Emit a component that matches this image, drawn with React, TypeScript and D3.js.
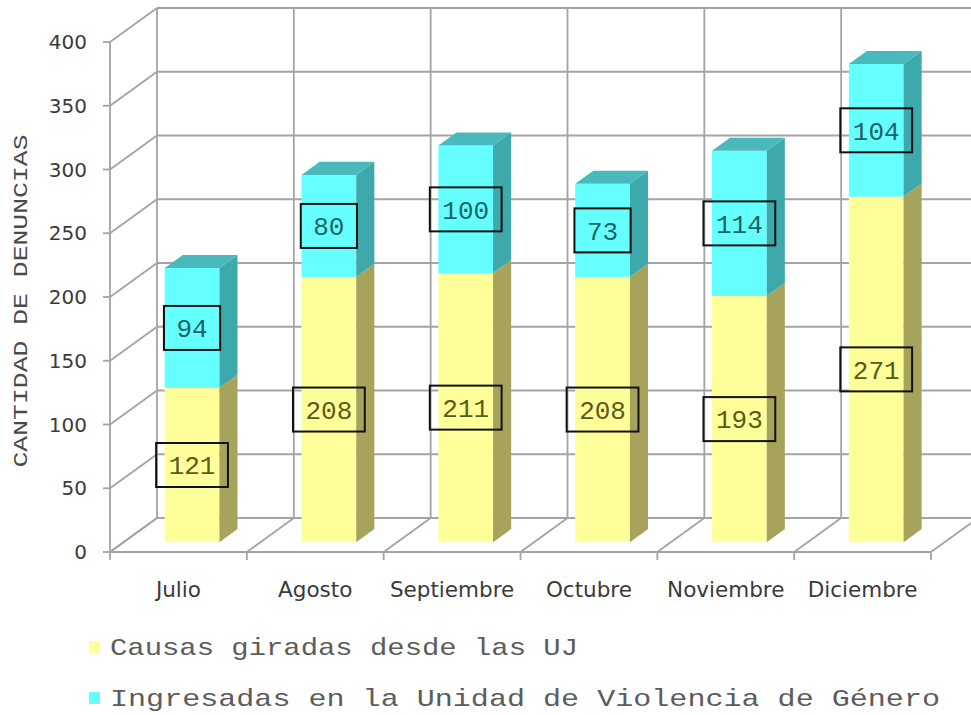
import * as d3 from "d3";

const months = ["Julio", "Agosto", "Septiembre", "Octubre", "Noviembre", "Diciembre"];
const causasUJ = [121, 208, 211, 208, 193, 271];
const ingresadasUVG = [94, 80, 100, 73, 114, 104];
const yTicks = [0, 50, 100, 150, 200, 250, 300, 350, 400];
const seriesNames = ["Causas giradas desde las UJ", "Ingresadas en la Unidad de Violencia de Género"];

const W = 971;
const H = 715;
const left = 110;
const right = 931;
const depth = { dx: 47, dy: -34 };
// the bars sit inside the depth of the floor, not on its front edge
const barFront = 0.29;
const barBack = 0.675;

const mono = "'Courier New', 'Liberation Mono', monospace";
const sans = "'DejaVu Sans', Verdana, sans-serif";
const grid = "#a3a3a8";

const colors = {
  yellow: { front: "#ffff99", side: "#a8a35c", top: "#c9c575", text: "#5a5a1a" },
  cyan: { front: "#66ffff", side: "#3ea9ab", top: "#49b9bb", text: "#1d6466" },
};

export default function App() {
  const x = d3.scaleBand<string>().domain(months).range([left, right]).paddingInner(0.6).paddingOuter(0.3);
  const y = d3.scaleLinear().domain([0, 400]).range([552, 42]);
  const step = x.step();
  const catEdges = d3.range(months.length + 1).map((i) => left + i * step);

  const fx = depth.dx * barFront;
  const fy = depth.dy * barFront;
  const sx = depth.dx * (barBack - barFront);
  const sy = depth.dy * (barBack - barFront);

  const stacked = months.map((m, i) => [
    { key: "yellow" as const, y0: 0, y1: causasUJ[i], v: causasUJ[i] },
    { key: "cyan" as const, y0: causasUJ[i], y1: causasUJ[i] + ingresadasUVG[i], v: ingresadasUVG[i] },
  ]);

  const labelFont = 26;
  const charW = labelFont * 0.6;

  return (
    <svg width={W} height={H} style={{ position: "absolute", left: 0, top: 0, background: "#fff" }}>
      {/* back wall grid */}
      <g stroke={grid} strokeWidth={1.8} fill="none">
        {yTicks.map((t) => (
          <line key={"bh" + t} x1={left + depth.dx} x2={right + depth.dx} y1={y(t) + depth.dy} y2={y(t) + depth.dy} />
        ))}
        {catEdges.map((cx, i) => (
          <line key={"bv" + i} x1={cx + depth.dx} x2={cx + depth.dx} y1={y(0) + depth.dy} y2={y(400) + depth.dy} />
        ))}
        {/* left wall */}
        {yTicks.map((t) => (
          <line key={"lw" + t} x1={left} y1={y(t)} x2={left + depth.dx} y2={y(t) + depth.dy} />
        ))}
        {/* floor */}
        {catEdges.map((cx, i) => (
          <line key={"fl" + i} x1={cx} y1={y(0)} x2={cx + depth.dx} y2={y(0) + depth.dy} />
        ))}
      </g>

      {/* bars */}
      {stacked.map((segs, i) => {
        const xl = (x(months[i]) as number) + fx;
        const xr = xl + x.bandwidth();
        return (
          <g key={months[i]}>
            {segs.map((s, j) => {
              const yb = y(s.y0) + fy;
              const yt = y(s.y1) + fy;
              const c = colors[s.key];
              return (
                <g key={j}>
                  <rect x={xl} y={yt} width={xr - xl} height={yb - yt} fill={c.front} />
                  <polygon points={`${xr},${yb} ${xr},${yt} ${xr + sx},${yt + sy} ${xr + sx},${yb + sy}`} fill={c.side} />
                  {j === segs.length - 1 && (
                    <polygon points={`${xl},${yt} ${xr},${yt} ${xr + sx},${yt + sy} ${xl + sx},${yt + sy}`} fill={c.top} />
                  )}
                </g>
              );
            })}
          </g>
        );
      })}

      {/* data labels */}
      {stacked.map((segs, i) => {
        const cx = (x(months[i]) as number) + fx + x.bandwidth() / 2;
        return segs.map((s, j) => {
          const cy = y((s.y0 + s.y1) / 2) + fy;
          const txt = String(s.v);
          const bw = txt.length * charW + 25;
          return (
            <g key={months[i] + j}>
              <rect x={cx - bw / 2} y={cy - 22} width={bw} height={44} fill="none" stroke="#111" strokeWidth={2} />
              <text x={cx} y={cy} dy="0.36em" textAnchor="middle" fontFamily={mono} fontSize={labelFont} fill={colors[s.key].text}>
                {txt}
              </text>
            </g>
          );
        });
      })}

      {/* front axes */}
      <g stroke={grid} strokeWidth={1.8}>
        <line x1={left} x2={left} y1={y(0)} y2={y(400)} />
        <line x1={left} x2={right} y1={y(0)} y2={y(0)} />
        {yTicks.map((t) => (
          <line key={"yt" + t} x1={left - 7} x2={left} y1={y(t)} y2={y(t)} />
        ))}
        {catEdges.map((cx, i) => (
          <line key={"xt" + i} x1={cx} x2={cx} y1={y(0)} y2={y(0) + 8} />
        ))}
      </g>
      {yTicks.map((t) => (
        <text key={"yl" + t} x={87} y={y(t)} dy="0.36em" textAnchor="end" fontFamily={sans} fontSize={20} fill="#3a3a3a">
          {t}
        </text>
      ))}
      {months.map((m) => (
        <text key={"xl" + m} x={(x(m) as number) + x.bandwidth() / 2} y={597} textAnchor="middle" fontFamily={sans} fontSize={21.5} fill="#3a3a3a">
          {m}
        </text>
      ))}

      <text
        transform="translate(27,301) rotate(-90)"
        textAnchor="middle"
        fontFamily={mono}
        fontSize={20}
        fill="#4a4a4a"
        textLength={333}
        lengthAdjust="spacingAndGlyphs"
      >
        CANTIDAD DE DENUNCIAS
      </text>

      {/* legend */}
      {seriesNames.map((name, i) => {
        const c = i === 0 ? colors.yellow.front : colors.cyan.front;
        const base = i === 0 ? 655 : 706;
        return (
          <g key={name}>
            <rect x={89} y={base - 14} width={11} height={12} fill={c} />
            <text x={110} y={base} fontFamily={mono} fontSize={24} fill="#5c5c5c" textLength={i === 0 ? 468 : 830} lengthAdjust="spacingAndGlyphs">
              {name}
            </text>
          </g>
        );
      })}
    </svg>
  );
}
